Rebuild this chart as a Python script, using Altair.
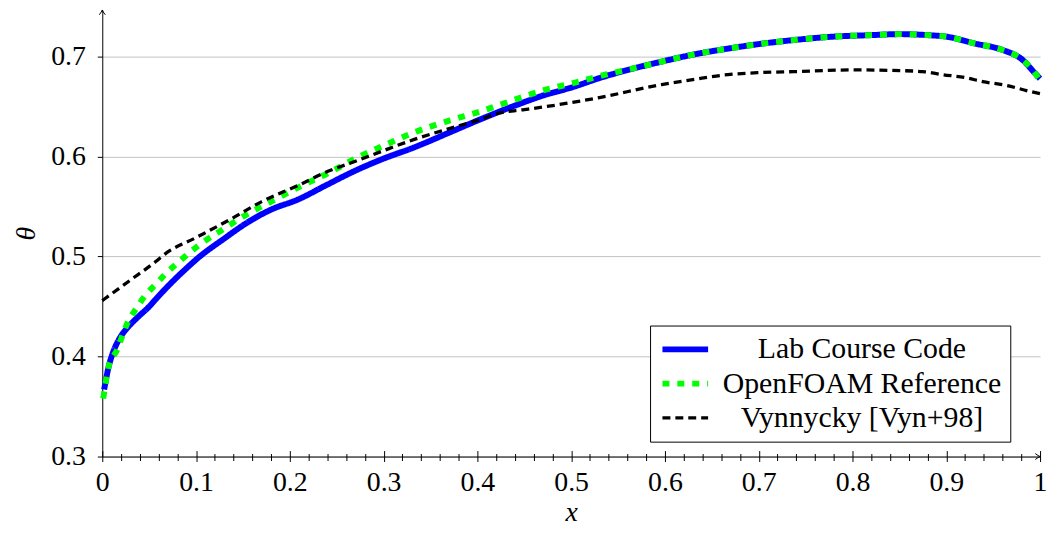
import altair as alt
import pandas as pd

series_names = ["Lab Course Code", "OpenFOAM Reference", "Vynnycky [Vyn+98]"]

lab_x = [0.002, 0.007, 0.012, 0.019, 0.028, 0.0385, 0.05, 0.0557, 0.0733, 0.0906, 0.1026, 0.13, 0.1556,
         0.18, 0.2085, 0.24, 0.27, 0.30, 0.332, 0.37, 0.4025, 0.44, 0.473, 0.50, 0.53, 0.5965, 0.63,
         0.667, 0.70, 0.7376, 0.78, 0.82, 0.85, 0.88, 0.90, 0.931, 0.96, 0.981, 0.995, 1.0]
lab_y = [0.367, 0.3906, 0.4055, 0.419, 0.430, 0.440, 0.450, 0.456, 0.4735, 0.489, 0.499, 0.518, 0.5346,
         0.547, 0.557, 0.572, 0.586, 0.598, 0.609, 0.624, 0.637, 0.651, 0.662, 0.669, 0.6785, 0.695, 0.702,
         0.708, 0.7125, 0.7166, 0.720, 0.7215, 0.7225, 0.7215, 0.720, 0.713, 0.7067, 0.697, 0.683, 0.678]

foam_x = [0.001, 0.007, 0.016, 0.0215, 0.0275, 0.0367, 0.0457, 0.0575, 0.068, 0.0807, 0.1026, 0.13,
          0.1556, 0.18, 0.2085, 0.24, 0.272, 0.30, 0.332, 0.37, 0.4025, 0.44, 0.473, 0.50, 0.5365, 0.57,
          0.5965, 0.63, 0.667, 0.70, 0.7376, 0.78, 0.82, 0.85, 0.88, 0.90, 0.931, 0.96, 0.981, 0.995, 1.0]
foam_y = [0.358, 0.3906, 0.407, 0.421, 0.435, 0.4486, 0.461, 0.4727, 0.4833, 0.494, 0.511, 0.528,
          0.543, 0.555, 0.569, 0.583, 0.599, 0.611, 0.624, 0.636, 0.645, 0.657, 0.667, 0.673, 0.682, 0.689,
          0.695, 0.702, 0.708, 0.7125, 0.7166, 0.720, 0.7215, 0.7225, 0.7215, 0.720, 0.713, 0.7067, 0.697,
          0.683, 0.676]

vyn_x = [0.0, 0.03, 0.057, 0.0674, 0.10, 0.138, 0.17, 0.2085, 0.24, 0.272, 0.30, 0.332, 0.37, 0.4025,
         0.4236, 0.45, 0.473, 0.50, 0.53, 0.5965, 0.63, 0.667, 0.70, 0.7376, 0.801, 0.851, 0.875, 0.896,
         0.92, 0.939, 0.965, 0.99, 1.0]
vyn_y = [0.456, 0.4765, 0.495, 0.503, 0.519, 0.538, 0.555, 0.571, 0.585, 0.596, 0.606, 0.617, 0.628, 0.637,
         0.6437, 0.647, 0.650, 0.654, 0.659, 0.672, 0.677, 0.682, 0.684, 0.685, 0.6867, 0.686, 0.685, 0.682,
         0.679, 0.675, 0.671, 0.665, 0.663]

x_major = [0, 0.1, 0.2, 0.3, 0.4, 0.5, 0.6, 0.7, 0.8, 0.9, 1.0]
x_minor = [round(i * 0.02, 2) for i in range(51) if i % 5 != 0]
y_ticks = [0.3, 0.4, 0.5, 0.6, 0.7]

series_colors = ["#0000ff", "#00ff00", "#000000"]
series_dash = [[1, 0], [7, 8], [8, 5]]
series_width = [6, 6, 3.3]

rows = []
for name, xs_, ys_ in zip(series_names, [lab_x, foam_x, vyn_x], [lab_y, foam_y, vyn_y]):
    for i, (a, b) in enumerate(zip(xs_, ys_)):
        rows.append({"series": name, "x": a, "y": b, "i": i})
df = pd.DataFrame(rows)

FONT = "Liberation Serif"
Y_MAX = 0.74665
xs = alt.Scale(domain=[0, 1], nice=False, zero=False)
ys = alt.Scale(domain=[0.3, Y_MAX], nice=False, zero=False)

legend = alt.Legend(
    orient="none", legendX=552, legendY=318, title=None, padding=9,
    strokeColor="black", fillColor="white", cornerRadius=0,
    labelFont=FONT, labelFontSize=30, labelColor="black", labelAlign="center",
    labelOffset=163, labelLimit=600, symbolType="M-2,0L2,0", symbolSize=529,
    symbolOffset=11.5, rowPadding=4.5,
)

y_axis = alt.Axis(
    orient="left", values=y_ticks, format=".1f", tickSize=5, tickColor="black",
    domainColor="black", domainWidth=1, grid=True, gridColor="#c4c4c4", gridWidth=1,
    labelFont=FONT, labelFontSize=28, labelColor="black", labelPadding=12,
    title="θ", titleFont=FONT, titleFontSize=28, titleFontStyle="italic",
    titleFontWeight="normal", titleColor="black", titleAngle=270,
    titleBaseline="alphabetic", titleX=-68)

lines = alt.Chart(df).mark_line(interpolate="monotone").encode(
    x=alt.X("x:Q", scale=xs, axis=alt.Axis(
        orient="bottom", values=x_major, format="~g", ticks=False, grid=False,
        domainColor="black", domainWidth=1, labelFont=FONT, labelFontSize=28, labelColor="black",
        labelPadding=12, labelFlush=False, title="x", titleFont=FONT, titleFontSize=28,
        titleFontStyle="italic", titleFontWeight="normal", titleColor="black",
        titleBaseline="alphabetic", titleY=64)),
    y=alt.Y("y:Q", scale=ys, axis=y_axis),
    stroke=alt.Stroke("series:N", scale=alt.Scale(domain=series_names, range=series_colors), legend=legend),
    strokeDash=alt.StrokeDash("series:N", scale=alt.Scale(domain=series_names, range=series_dash), legend=legend),
    strokeWidth=alt.StrokeWidth("series:N", scale=alt.Scale(type="ordinal", domain=series_names, range=series_width), legend=legend),
    order="i:Q",
)

major = alt.Chart(pd.DataFrame({"t": x_major})).mark_point(opacity=0).encode(
    x=alt.X("t:Q", scale=xs, axis=alt.Axis(
        orient="bottom", values=x_major, labels=False, domain=False, grid=False,
        ticks=True, tickSize=11, tickColor="black", tickWidth=1, offset=-6, title=None)),
)
minor = alt.Chart(pd.DataFrame({"t": x_minor})).mark_point(opacity=0).encode(
    x=alt.X("t:Q", scale=xs, axis=alt.Axis(
        orient="bottom", values=x_minor, labels=False, domain=False, grid=False,
        ticks=True, tickSize=7, tickColor="black", tickWidth=1, offset=-3, title=None)),
)

arrow_x = alt.Chart(pd.DataFrame({"ax": [1.0], "ay": [0.3]})).mark_point(
    shape="M-1.6,-1Q-0.6,-0.2,0,0Q-0.6,0.2,-1.6,1", size=36, filled=False,
    stroke="black", strokeWidth=1, opacity=1).encode(
    x=alt.X("ax:Q", scale=xs, axis=None), y=alt.Y("ay:Q", scale=ys, axis=y_axis))
arrow_y = alt.Chart(pd.DataFrame({"ax": [0.0], "ay": [Y_MAX]})).mark_point(
    shape="M-1,1.6Q-0.2,0.6,0,0Q0.2,0.6,1,1.6", size=36, filled=False,
    stroke="black", strokeWidth=1, opacity=1).encode(
    x=alt.X("ax:Q", scale=xs, axis=None), y=alt.Y("ay:Q", scale=ys, axis=y_axis))

chart = alt.layer(lines, major, minor, arrow_x, arrow_y).resolve_axis(x="independent").properties(
    width=945, height=450,
    padding={"left": 95, "top": 0, "right": 7, "bottom": 68},
    autosize=alt.AutoSizeParams(type="none"),
).configure(font=FONT).configure_view(stroke=None)

chart.save("out.html", embed_options={"renderer": "svg", "actions": False})
